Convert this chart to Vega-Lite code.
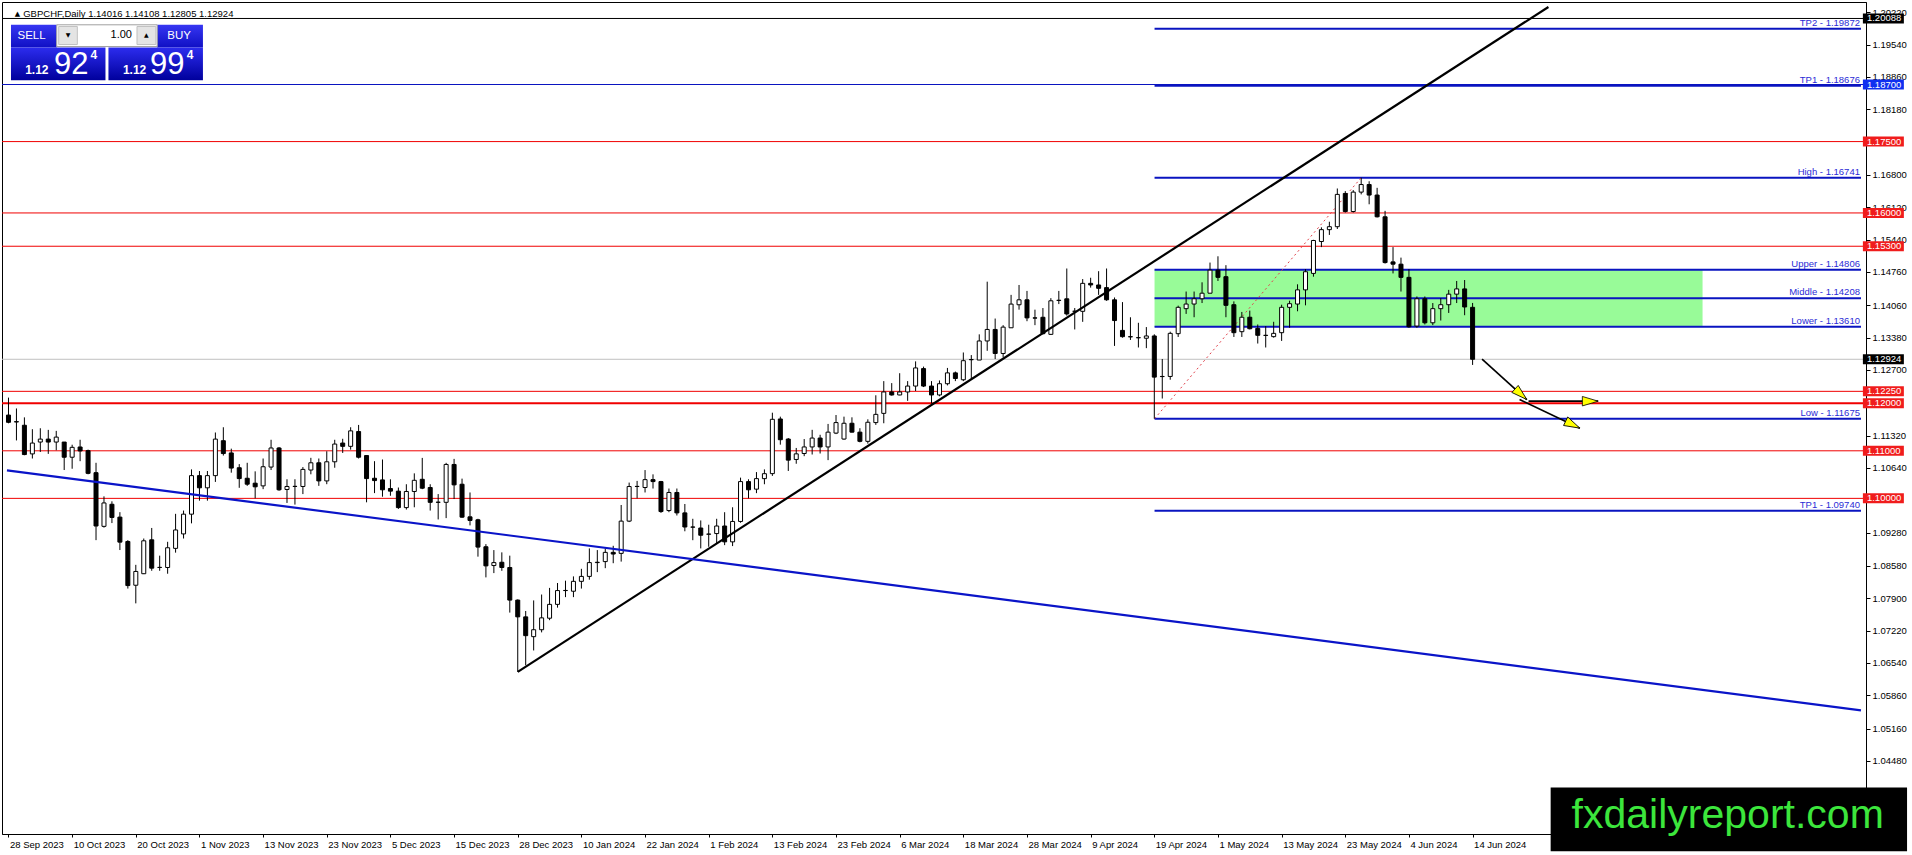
{
  "$schema": "https://vega.github.io/schema/vega-lite/v6.json",
  "width": 1864,
  "height": 832,
  "autosize": {"type": "none"},
  "padding": {"left": 2, "top": 2, "right": 46, "bottom": 21},
  "background": "white",
  "config": {
    "view": {"stroke": "#000000", "strokeWidth": 1},
    "axis": {"grid": false, "labelOverlap": false, "labelFlush": false, "labelBound": false},
    "text": {"font": "Liberation Sans"}
  },
  "datasets": {
    "candles": [
      {"i":0,"d":"2023-09-28","o":1.11751,"h":1.12118,"l":1.11578,"c":1.11599},
      {"i":1,"d":"2023-09-29","o":1.11613,"h":1.1189,"l":1.11218,"c":1.11606},
      {"i":2,"d":"2023-10-02","o":1.11537,"h":1.11703,"l":1.10907,"c":1.10921},
      {"i":3,"d":"2023-10-03","o":1.10935,"h":1.11454,"l":1.10838,"c":1.11163},
      {"i":4,"d":"2023-10-04","o":1.11184,"h":1.11474,"l":1.10976,"c":1.11246},
      {"i":5,"d":"2023-10-05","o":1.11246,"h":1.1144,"l":1.10935,"c":1.11184},
      {"i":6,"d":"2023-10-06","o":1.11184,"h":1.11419,"l":1.11011,"c":1.11288},
      {"i":7,"d":"2023-10-09","o":1.11184,"h":1.11184,"l":1.10596,"c":1.10865},
      {"i":8,"d":"2023-10-10","o":1.10865,"h":1.11128,"l":1.10623,"c":1.11073},
      {"i":9,"d":"2023-10-11","o":1.1108,"h":1.11232,"l":1.10782,"c":1.10997},
      {"i":10,"d":"2023-10-12","o":1.11004,"h":1.11025,"l":1.10506,"c":1.10526},
      {"i":11,"d":"2023-10-13","o":1.1054,"h":1.10748,"l":1.09122,"c":1.09419},
      {"i":12,"d":"2023-10-16","o":1.09412,"h":1.10042,"l":1.09385,"c":1.09904},
      {"i":13,"d":"2023-10-17","o":1.09876,"h":1.09938,"l":1.09481,"c":1.09599},
      {"i":14,"d":"2023-10-18","o":1.09606,"h":1.0971,"l":1.08914,"c":1.0908},
      {"i":15,"d":"2023-10-19","o":1.09094,"h":1.09122,"l":1.08104,"c":1.08167},
      {"i":16,"d":"2023-10-20","o":1.08174,"h":1.08603,"l":1.07793,"c":1.08464},
      {"i":17,"d":"2023-10-23","o":1.08416,"h":1.09156,"l":1.08409,"c":1.09108},
      {"i":18,"d":"2023-10-24","o":1.09129,"h":1.09378,"l":1.08478,"c":1.08533},
      {"i":19,"d":"2023-10-25","o":1.08547,"h":1.08796,"l":1.08478,"c":1.0855},
      {"i":20,"d":"2023-10-26","o":1.08547,"h":1.09087,"l":1.08416,"c":1.08962},
      {"i":21,"d":"2023-10-27","o":1.08949,"h":1.09675,"l":1.08859,"c":1.09336},
      {"i":22,"d":"2023-10-30","o":1.09253,"h":1.09744,"l":1.09156,"c":1.09668},
      {"i":23,"d":"2023-10-31","o":1.09668,"h":1.10609,"l":1.09475,"c":1.10478},
      {"i":24,"d":"2023-11-01","o":1.10478,"h":1.10575,"l":1.09952,"c":1.10222},
      {"i":25,"d":"2023-11-02","o":1.10222,"h":1.10575,"l":1.09952,"c":1.10478},
      {"i":26,"d":"2023-11-03","o":1.10478,"h":1.11385,"l":1.10346,"c":1.11246},
      {"i":27,"d":"2023-11-06","o":1.11212,"h":1.11495,"l":1.109,"c":1.10942},
      {"i":28,"d":"2023-11-07","o":1.10955,"h":1.11045,"l":1.1054,"c":1.10637},
      {"i":29,"d":"2023-11-08","o":1.10644,"h":1.1072,"l":1.10222,"c":1.10416},
      {"i":30,"d":"2023-11-09","o":1.10423,"h":1.10748,"l":1.10263,"c":1.10298},
      {"i":31,"d":"2023-11-10","o":1.10319,"h":1.10568,"l":1.1,"c":1.10243},
      {"i":32,"d":"2023-11-13","o":1.10263,"h":1.10838,"l":1.10194,"c":1.10665},
      {"i":33,"d":"2023-11-14","o":1.10658,"h":1.11232,"l":1.10596,"c":1.11059},
      {"i":34,"d":"2023-11-15","o":1.11059,"h":1.1108,"l":1.1016,"c":1.1018},
      {"i":35,"d":"2023-11-16","o":1.10187,"h":1.10402,"l":1.09904,"c":1.1025},
      {"i":36,"d":"2023-11-17","o":1.1025,"h":1.10402,"l":1.09869,"c":1.10253},
      {"i":37,"d":"2023-11-20","o":1.1025,"h":1.10658,"l":1.1009,"c":1.10609},
      {"i":38,"d":"2023-11-21","o":1.10596,"h":1.10852,"l":1.10506,"c":1.10748},
      {"i":39,"d":"2023-11-22","o":1.10748,"h":1.10838,"l":1.10263,"c":1.10367},
      {"i":40,"d":"2023-11-23","o":1.10367,"h":1.1099,"l":1.10298,"c":1.10769},
      {"i":41,"d":"2023-11-24","o":1.10769,"h":1.11232,"l":1.10644,"c":1.11142},
      {"i":42,"d":"2023-11-27","o":1.11163,"h":1.11253,"l":1.10955,"c":1.11094},
      {"i":43,"d":"2023-11-28","o":1.11094,"h":1.11495,"l":1.11025,"c":1.11419},
      {"i":44,"d":"2023-11-29","o":1.11405,"h":1.11544,"l":1.10838,"c":1.10865},
      {"i":45,"d":"2023-11-30","o":1.109,"h":1.109,"l":1.09917,"c":1.10416},
      {"i":46,"d":"2023-12-01","o":1.10423,"h":1.10782,"l":1.10111,"c":1.10374},
      {"i":47,"d":"2023-12-04","o":1.10388,"h":1.10817,"l":1.10035,"c":1.1018},
      {"i":48,"d":"2023-12-05","o":1.10207,"h":1.10401,"l":1.10055,"c":1.10152},
      {"i":49,"d":"2023-12-06","o":1.10152,"h":1.10228,"l":1.09778,"c":1.09806},
      {"i":50,"d":"2023-12-07","o":1.09806,"h":1.10297,"l":1.09765,"c":1.10145},
      {"i":51,"d":"2023-12-08","o":1.10145,"h":1.10526,"l":1.09813,"c":1.1038},
      {"i":52,"d":"2023-12-11","o":1.10401,"h":1.10851,"l":1.10194,"c":1.10214},
      {"i":53,"d":"2023-12-12","o":1.10228,"h":1.10297,"l":1.09744,"c":1.09917},
      {"i":54,"d":"2023-12-13","o":1.09917,"h":1.1009,"l":1.09557,"c":1.0992},
      {"i":55,"d":"2023-12-14","o":1.09917,"h":1.10747,"l":1.09585,"c":1.10713},
      {"i":56,"d":"2023-12-15","o":1.10713,"h":1.1083,"l":1.09986,"c":1.10284},
      {"i":57,"d":"2023-12-18","o":1.10297,"h":1.10415,"l":1.09592,"c":1.09605},
      {"i":58,"d":"2023-12-19","o":1.09612,"h":1.10124,"l":1.09432,"c":1.09536},
      {"i":59,"d":"2023-12-20","o":1.0955,"h":1.09571,"l":1.08775,"c":1.08976},
      {"i":60,"d":"2023-12-21","o":1.08983,"h":1.09038,"l":1.08339,"c":1.08581},
      {"i":61,"d":"2023-12-22","o":1.08588,"h":1.08913,"l":1.08429,"c":1.0865},
      {"i":62,"d":"2023-12-26","o":1.08657,"h":1.08865,"l":1.08477,"c":1.08547},
      {"i":63,"d":"2023-12-27","o":1.08547,"h":1.08796,"l":1.07599,"c":1.07862},
      {"i":64,"d":"2023-12-28","o":1.07862,"h":1.07876,"l":1.06352,"c":1.07509},
      {"i":65,"d":"2023-12-29","o":1.07509,"h":1.07633,"l":1.06491,"c":1.07114},
      {"i":66,"d":"2024-01-02","o":1.07093,"h":1.07855,"l":1.06803,"c":1.07239},
      {"i":67,"d":"2024-01-03","o":1.07239,"h":1.07979,"l":1.07183,"c":1.07488},
      {"i":68,"d":"2024-01-04","o":1.07481,"h":1.08118,"l":1.0744,"c":1.07772},
      {"i":69,"d":"2024-01-05","o":1.07772,"h":1.08221,"l":1.07703,"c":1.08062},
      {"i":70,"d":"2024-01-08","o":1.08062,"h":1.0827,"l":1.07924,"c":1.08065},
      {"i":71,"d":"2024-01-09","o":1.08048,"h":1.0836,"l":1.07924,"c":1.08256},
      {"i":72,"d":"2024-01-10","o":1.08256,"h":1.08519,"l":1.08104,"c":1.0836},
      {"i":73,"d":"2024-01-11","o":1.0836,"h":1.08948,"l":1.08291,"c":1.0865},
      {"i":74,"d":"2024-01-12","o":1.0865,"h":1.08913,"l":1.0845,"c":1.08657},
      {"i":75,"d":"2024-01-15","o":1.08671,"h":1.08948,"l":1.08533,"c":1.08865},
      {"i":76,"d":"2024-01-16","o":1.08865,"h":1.09003,"l":1.08637,"c":1.0883},
      {"i":77,"d":"2024-01-17","o":1.08844,"h":1.09861,"l":1.08671,"c":1.09522},
      {"i":78,"d":"2024-01-18","o":1.09522,"h":1.10332,"l":1.09502,"c":1.10249},
      {"i":79,"d":"2024-01-19","o":1.10249,"h":1.10367,"l":1.1,"c":1.10252},
      {"i":80,"d":"2024-01-22","o":1.10228,"h":1.10595,"l":1.10124,"c":1.10394},
      {"i":81,"d":"2024-01-23","o":1.10394,"h":1.10505,"l":1.10207,"c":1.10353},
      {"i":82,"d":"2024-01-24","o":1.10353,"h":1.10367,"l":1.09695,"c":1.09723},
      {"i":83,"d":"2024-01-25","o":1.09744,"h":1.10207,"l":1.09709,"c":1.10124},
      {"i":84,"d":"2024-01-26","o":1.10124,"h":1.10207,"l":1.0964,"c":1.09695},
      {"i":85,"d":"2024-01-29","o":1.09695,"h":1.09882,"l":1.09308,"c":1.09398},
      {"i":86,"d":"2024-01-30","o":1.09398,"h":1.09571,"l":1.09121,"c":1.09395},
      {"i":87,"d":"2024-01-31","o":1.09377,"h":1.09536,"l":1.08948,"c":1.09225},
      {"i":88,"d":"2024-02-01","o":1.09246,"h":1.09446,"l":1.08983,"c":1.0925},
      {"i":89,"d":"2024-02-02","o":1.0926,"h":1.09571,"l":1.09052,"c":1.09419},
      {"i":90,"d":"2024-02-05","o":1.09419,"h":1.09709,"l":1.09017,"c":1.09086},
      {"i":91,"d":"2024-02-06","o":1.09086,"h":1.09813,"l":1.08997,"c":1.09515},
      {"i":92,"d":"2024-02-07","o":1.09515,"h":1.10436,"l":1.09488,"c":1.10353},
      {"i":93,"d":"2024-02-08","o":1.10353,"h":1.10401,"l":1.1,"c":1.1018},
      {"i":94,"d":"2024-02-09","o":1.10194,"h":1.10553,"l":1.1011,"c":1.10415},
      {"i":95,"d":"2024-02-12","o":1.10415,"h":1.10609,"l":1.10297,"c":1.10519},
      {"i":96,"d":"2024-02-13","o":1.1052,"h":1.11801,"l":1.10472,"c":1.11662},
      {"i":97,"d":"2024-02-14","o":1.11669,"h":1.11718,"l":1.11129,"c":1.11233},
      {"i":98,"d":"2024-02-15","o":1.11247,"h":1.11268,"l":1.10576,"c":1.10804},
      {"i":99,"d":"2024-02-16","o":1.10818,"h":1.1106,"l":1.10728,"c":1.10936},
      {"i":100,"d":"2024-02-19","o":1.10943,"h":1.11247,"l":1.10887,"c":1.11081},
      {"i":101,"d":"2024-02-20","o":1.11081,"h":1.11441,"l":1.10922,"c":1.11268},
      {"i":102,"d":"2024-02-21","o":1.11268,"h":1.11337,"l":1.10943,"c":1.11081},
      {"i":103,"d":"2024-02-22","o":1.11081,"h":1.11565,"l":1.10804,"c":1.11392},
      {"i":104,"d":"2024-02-23","o":1.11372,"h":1.11752,"l":1.11351,"c":1.11593},
      {"i":105,"d":"2024-02-26","o":1.11247,"h":1.11718,"l":1.11233,"c":1.11579},
      {"i":106,"d":"2024-02-27","o":1.11579,"h":1.11704,"l":1.11385,"c":1.11392},
      {"i":107,"d":"2024-02-28","o":1.11392,"h":1.11475,"l":1.11178,"c":1.11199},
      {"i":108,"d":"2024-02-29","o":1.11199,"h":1.11662,"l":1.1115,"c":1.116},
      {"i":109,"d":"2024-03-01","o":1.11593,"h":1.12167,"l":1.11545,"c":1.11766},
      {"i":110,"d":"2024-03-04","o":1.11787,"h":1.12465,"l":1.11579,"c":1.12237},
      {"i":111,"d":"2024-03-05","o":1.12237,"h":1.12423,"l":1.1216,"c":1.12174},
      {"i":112,"d":"2024-03-06","o":1.12174,"h":1.12631,"l":1.12167,"c":1.12237},
      {"i":113,"d":"2024-03-07","o":1.12237,"h":1.12465,"l":1.1205,"c":1.12361},
      {"i":114,"d":"2024-03-08","o":1.12361,"h":1.1288,"l":1.12257,"c":1.12742},
      {"i":115,"d":"2024-03-11","o":1.12728,"h":1.1277,"l":1.1234,"c":1.12361},
      {"i":116,"d":"2024-03-12","o":1.12361,"h":1.12465,"l":1.11994,"c":1.12174},
      {"i":117,"d":"2024-03-13","o":1.12174,"h":1.12479,"l":1.12147,"c":1.1241},
      {"i":118,"d":"2024-03-14","o":1.1241,"h":1.12742,"l":1.12375,"c":1.12638},
      {"i":119,"d":"2024-03-15","o":1.12638,"h":1.12666,"l":1.12465,"c":1.1252},
      {"i":120,"d":"2024-03-18","o":1.12493,"h":1.13067,"l":1.12465,"c":1.12894},
      {"i":121,"d":"2024-03-19","o":1.12915,"h":1.13012,"l":1.125,"c":1.12918},
      {"i":122,"d":"2024-03-20","o":1.12908,"h":1.13448,"l":1.12908,"c":1.13309},
      {"i":123,"d":"2024-03-21","o":1.13309,"h":1.14555,"l":1.13102,"c":1.13551},
      {"i":124,"d":"2024-03-22","o":1.13551,"h":1.1378,"l":1.12929,"c":1.13046},
      {"i":125,"d":"2024-03-25","o":1.13046,"h":1.13641,"l":1.12963,"c":1.136},
      {"i":126,"d":"2024-03-26","o":1.13586,"h":1.14278,"l":1.13586,"c":1.14084},
      {"i":127,"d":"2024-03-27","o":1.1407,"h":1.14486,"l":1.13967,"c":1.14174},
      {"i":128,"d":"2024-03-28","o":1.14174,"h":1.14361,"l":1.13724,"c":1.13794},
      {"i":129,"d":"2024-03-29","o":1.13794,"h":1.13967,"l":1.13641,"c":1.1379},
      {"i":130,"d":"2024-04-01","o":1.13807,"h":1.14001,"l":1.13448,"c":1.13462},
      {"i":131,"d":"2024-04-02","o":1.13448,"h":1.14209,"l":1.13434,"c":1.14153},
      {"i":132,"d":"2024-04-03","o":1.1416,"h":1.14361,"l":1.14084,"c":1.14165},
      {"i":133,"d":"2024-04-04","o":1.14195,"h":1.14832,"l":1.13842,"c":1.13877},
      {"i":134,"d":"2024-04-05","o":1.13932,"h":1.14001,"l":1.13551,"c":1.13935},
      {"i":135,"d":"2024-04-08","o":1.13932,"h":1.1461,"l":1.13711,"c":1.1452},
      {"i":136,"d":"2024-04-09","o":1.1452,"h":1.14638,"l":1.1443,"c":1.14486},
      {"i":137,"d":"2024-04-10","o":1.14486,"h":1.14776,"l":1.14278,"c":1.14416},
      {"i":138,"d":"2024-04-11","o":1.1443,"h":1.14832,"l":1.14153,"c":1.14174},
      {"i":139,"d":"2024-04-12","o":1.14174,"h":1.14223,"l":1.13205,"c":1.13738},
      {"i":140,"d":"2024-04-15","o":1.13531,"h":1.14126,"l":1.13378,"c":1.13399},
      {"i":141,"d":"2024-04-16","o":1.13399,"h":1.13807,"l":1.1333,"c":1.13395},
      {"i":142,"d":"2024-04-17","o":1.13379,"h":1.13691,"l":1.13172,"c":1.13376},
      {"i":143,"d":"2024-04-18","o":1.13366,"h":1.13601,"l":1.13158,"c":1.13414},
      {"i":144,"d":"2024-04-19","o":1.13414,"h":1.13449,"l":1.11675,"c":1.12549},
      {"i":145,"d":"2024-04-22","o":1.12563,"h":1.1293,"l":1.12099,"c":1.1256},
      {"i":146,"d":"2024-04-23","o":1.12563,"h":1.13504,"l":1.12494,"c":1.13469},
      {"i":147,"d":"2024-04-24","o":1.13462,"h":1.14051,"l":1.13393,"c":1.14016},
      {"i":148,"d":"2024-04-25","o":1.13988,"h":1.14348,"l":1.13878,"c":1.14085},
      {"i":149,"d":"2024-04-26","o":1.14085,"h":1.14348,"l":1.13808,"c":1.14196},
      {"i":150,"d":"2024-04-29","o":1.14196,"h":1.14542,"l":1.14106,"c":1.14313},
      {"i":151,"d":"2024-04-30","o":1.14313,"h":1.14957,"l":1.14313,"c":1.14798},
      {"i":152,"d":"2024-05-01","o":1.14798,"h":1.15089,"l":1.1457,"c":1.14646},
      {"i":153,"d":"2024-05-02","o":1.1466,"h":1.14902,"l":1.13808,"c":1.14058},
      {"i":154,"d":"2024-05-03","o":1.14071,"h":1.14141,"l":1.13393,"c":1.13483},
      {"i":155,"d":"2024-05-06","o":1.13504,"h":1.13919,"l":1.13393,"c":1.13808},
      {"i":156,"d":"2024-05-07","o":1.13808,"h":1.13947,"l":1.13552,"c":1.13566},
      {"i":157,"d":"2024-05-08","o":1.13573,"h":1.13656,"l":1.13255,"c":1.13428},
      {"i":158,"d":"2024-05-09","o":1.13428,"h":1.13622,"l":1.13172,"c":1.13425},
      {"i":159,"d":"2024-05-10","o":1.134,"h":1.13712,"l":1.13379,"c":1.13469},
      {"i":160,"d":"2024-05-13","o":1.13483,"h":1.14071,"l":1.1331,"c":1.14016},
      {"i":161,"d":"2024-05-14","o":1.14016,"h":1.14155,"l":1.13587,"c":1.14092},
      {"i":162,"d":"2024-05-15","o":1.14085,"h":1.145,"l":1.13933,"c":1.14383},
      {"i":163,"d":"2024-05-16","o":1.14383,"h":1.14819,"l":1.14058,"c":1.14764},
      {"i":164,"d":"2024-05-17","o":1.14729,"h":1.15435,"l":1.1466,"c":1.15421},
      {"i":165,"d":"2024-05-20","o":1.154,"h":1.15698,"l":1.15282,"c":1.15649},
      {"i":166,"d":"2024-05-21","o":1.15649,"h":1.15815,"l":1.15538,"c":1.15711},
      {"i":167,"d":"2024-05-22","o":1.15711,"h":1.16514,"l":1.15663,"c":1.1639},
      {"i":168,"d":"2024-05-23","o":1.1641,"h":1.16459,"l":1.16009,"c":1.1603},
      {"i":169,"d":"2024-05-24","o":1.1603,"h":1.1648,"l":1.16009,"c":1.16438},
      {"i":170,"d":"2024-05-27","o":1.16438,"h":1.16741,"l":1.1639,"c":1.16597},
      {"i":171,"d":"2024-05-28","o":1.16597,"h":1.16666,"l":1.16182,"c":1.16376},
      {"i":172,"d":"2024-05-29","o":1.16376,"h":1.16528,"l":1.15905,"c":1.15919},
      {"i":173,"d":"2024-05-30","o":1.15919,"h":1.16044,"l":1.14936,"c":1.14957},
      {"i":174,"d":"2024-05-31","o":1.14971,"h":1.15282,"l":1.14729,"c":1.14923},
      {"i":175,"d":"2024-06-03","o":1.14923,"h":1.15061,"l":1.14348,"c":1.14646},
      {"i":176,"d":"2024-06-04","o":1.14646,"h":1.14819,"l":1.13587,"c":1.13608},
      {"i":177,"d":"2024-06-05","o":1.13622,"h":1.14244,"l":1.13587,"c":1.14196},
      {"i":178,"d":"2024-06-06","o":1.14196,"h":1.14244,"l":1.13656,"c":1.13691},
      {"i":179,"d":"2024-06-07","o":1.13691,"h":1.14106,"l":1.13642,"c":1.13988},
      {"i":180,"d":"2024-06-10","o":1.13988,"h":1.1421,"l":1.13739,"c":1.14071},
      {"i":181,"d":"2024-06-11","o":1.14071,"h":1.14383,"l":1.13898,"c":1.14293},
      {"i":182,"d":"2024-06-12","o":1.14293,"h":1.1457,"l":1.14106,"c":1.14403},
      {"i":183,"d":"2024-06-13","o":1.14403,"h":1.1459,"l":1.1385,"c":1.14023},
      {"i":184,"d":"2024-06-14","o":1.14016,"h":1.14108,"l":1.12805,"c":1.12924}
    ],
    "hlines": [
      {"price": 1.20088, "kind": "marker"},
      {"price": 1.187, "kind": "target"},
      {"price": 1.175, "kind": "level"},
      {"price": 1.16, "kind": "level"},
      {"price": 1.153, "kind": "level"},
      {"price": 1.12924, "kind": "bid"},
      {"price": 1.1225, "kind": "level"},
      {"price": 1.12, "kind": "key"},
      {"price": 1.11, "kind": "level"},
      {"price": 1.1, "kind": "level"}
    ],
    "fib": [
      {"label": "TP2 - 1.19872", "price": 1.19872},
      {"label": "TP1 - 1.18676", "price": 1.18676},
      {"label": "High - 1.16741", "price": 1.16741},
      {"label": "Upper - 1.14806", "price": 1.14806},
      {"label": "Middle - 1.14208", "price": 1.14208},
      {"label": "Lower - 1.13610", "price": 1.1361},
      {"label": "Low - 1.11675", "price": 1.11675},
      {"label": "TP1 - 1.09740", "price": 1.0974}
    ],
    "trends": [
      {"name": "up", "i1": 64, "v1": 1.06352, "i2": 193.53, "v2": 1.2033},
      {"name": "down", "i1": -0.19, "v1": 1.10589, "i2": 232.81, "v2": 1.05542}
    ],
    "arrows": [
      {"i1": 185.19, "v1": 1.12929, "i2": 190.81, "v2": 1.12078, "angle": 42},
      {"i1": 191.03, "v1": 1.12043, "i2": 199.78, "v2": 1.12043, "angle": 0},
      {"i1": 189.9, "v1": 1.12078, "i2": 197.48, "v2": 1.11476, "angle": 26}
    ],
    "one": [{}]
  },
  "layer": [
    {
      "data": {"name": "one"},
      "mark": {"type": "rect", "color": "#98fb98"},
      "encoding": {
        "x": {
          "datum": 144.03,
          "type": "quantitative",
          "scale": {"domain": [-0.1875, 232.8125], "nice": false, "zero": false},
          "axis": {
            "title": null,
            "orient": "bottom",
            "values": [0, 8, 16, 24, 32, 40, 48, 56, 64, 72, 80, 88, 96, 104, 112, 120, 128, 136, 144, 152, 160, 168, 176, 184],
            "labelExpr": "['28 Sep 2023','10 Oct 2023','20 Oct 2023','1 Nov 2023','13 Nov 2023','23 Nov 2023','5 Dec 2023','15 Dec 2023','28 Dec 2023','10 Jan 2024','22 Jan 2024','1 Feb 2024','13 Feb 2024','23 Feb 2024','6 Mar 2024','18 Mar 2024','28 Mar 2024','9 Apr 2024','19 Apr 2024','1 May 2024','13 May 2024','23 May 2024','4 Jun 2024','14 Jun 2024'][round(datum.value / 8)]",
            "labelAlign": "left",
            "labelBaseline": "top",
            "labelPadding": 2,
            "labelOffset": 1,
            "labelFlush": false,
            "labelBound": false,
            "labelOverlap": false,
            "labelFont": "Liberation Sans",
            "labelFontSize": 9.5,
            "labelColor": "#000000",
            "tickSize": 3,
            "tickColor": "#000000",
            "domainColor": "#000000"
          }
        },
        "x2": {"datum": 212.9},
        "y": {
          "datum": 1.14806,
          "type": "quantitative",
          "scale": {"domain": [1.030499, 1.203292], "nice": false, "zero": false},
          "axis": {
            "title": null,
            "orient": "right",
            "values": [1.2022, 1.1954, 1.1886, 1.1818, 1.168, 1.1612, 1.1544, 1.1476, 1.1406, 1.1338, 1.127, 1.1132, 1.1064, 1.0928, 1.0858, 1.079, 1.0722, 1.0654, 1.0586, 1.0516, 1.0448],
            "format": ".5f",
            "labelAlign": "left",
            "labelBaseline": "middle",
            "labelPadding": 2,
            "labelFlush": false,
            "labelBound": false,
            "labelOverlap": false,
            "labelFont": "Liberation Sans",
            "labelFontSize": 9.5,
            "labelColor": "#000000",
            "tickSize": 4,
            "tickColor": "#000000",
            "domainColor": "#000000"
          }
        },
        "y2": {"datum": 1.1361}
      }
    },
    {
      "data": {"name": "hlines"},
      "mark": {"type": "rule"},
      "encoding": {
        "y": {"field": "price", "type": "quantitative"},
        "stroke": {
          "condition": [
            {"test": "datum.kind === 'bid'", "value": "#c0c0c0"},
            {"test": "datum.kind === 'marker'", "value": "#000000"},
            {"test": "datum.kind === 'target'", "value": "#0a14c0"}
          ],
          "value": "#f00000"
        },
        "strokeWidth": {"condition": {"test": "datum.kind === 'key'", "value": 2}, "value": 1}
      }
    },
    {
      "data": {"name": "fib"},
      "mark": {"type": "rule", "color": "#0a14c0", "strokeWidth": 2},
      "encoding": {
        "x": {"datum": 144.03, "type": "quantitative"},
        "x2": {"datum": 232.81},
        "y": {"field": "price", "type": "quantitative"}
      }
    },
    {
      "data": {"name": "one"},
      "mark": {"type": "rule", "color": "#e0404a", "strokeWidth": 1, "strokeDash": [2, 3]},
      "encoding": {
        "x": {"datum": 144.03, "type": "quantitative"},
        "x2": {"datum": 170},
        "y": {"datum": 1.11675, "type": "quantitative"},
        "y2": {"datum": 1.16741}
      }
    },
    {
      "data": {"name": "candles"},
      "mark": {"type": "rule", "color": "#000000", "strokeWidth": 1},
      "encoding": {
        "x": {"field": "i", "type": "quantitative"},
        "y": {"field": "l", "type": "quantitative"},
        "y2": {"field": "h"}
      }
    },
    {
      "data": {"name": "candles"},
      "mark": {"type": "bar", "width": 4, "stroke": "#000000", "strokeWidth": 1},
      "encoding": {
        "x": {"field": "i", "type": "quantitative"},
        "y": {"field": "o", "type": "quantitative"},
        "y2": {"field": "c"},
        "fill": {"condition": {"test": "datum.c < datum.o", "value": "#000000"}, "value": "#ffffff"}
      }
    },
    {
      "data": {"name": "trends"},
      "mark": {"type": "rule", "strokeWidth": 2.2, "clip": true},
      "encoding": {
        "x": {"field": "i1", "type": "quantitative"},
        "y": {"field": "v1", "type": "quantitative"},
        "x2": {"field": "i2"},
        "y2": {"field": "v2"},
        "stroke": {"condition": {"test": "datum.name === 'up'", "value": "#000000"}, "value": "#0a14c8"}
      }
    },
    {
      "data": {"name": "arrows"},
      "mark": {"type": "rule", "color": "#000000", "strokeWidth": 1.7},
      "encoding": {
        "x": {"field": "i1", "type": "quantitative"},
        "y": {"field": "v1", "type": "quantitative"},
        "x2": {"field": "i2"},
        "y2": {"field": "v2"}
      }
    },
    {
      "data": {"name": "arrows"},
      "mark": {"type": "point", "shape": "M0,0L-1,-0.3L-1,0.3Z", "filled": true, "fill": "#ffff00", "stroke": "#000000", "strokeWidth": 0.8, "size": 1000, "opacity": 1},
      "encoding": {
        "x": {"field": "i2", "type": "quantitative"},
        "y": {"field": "v2", "type": "quantitative"},
        "angle": {"field": "angle", "type": "quantitative", "scale": null}
      }
    },
    {
      "data": {"name": "fib"},
      "mark": {"type": "text", "align": "right", "baseline": "bottom", "dx": -1, "dy": -1, "fontSize": 9.5, "color": "#2b2bd6"},
      "encoding": {
        "x": {"datum": 232.81, "type": "quantitative"},
        "y": {"field": "price", "type": "quantitative"},
        "text": {"field": "label"}
      }
    },
    {
      "data": {"name": "one"},
      "mark": {"type": "text", "align": "left", "baseline": "middle", "fontSize": 7, "font": "DejaVu Sans", "color": "#000000"},
      "encoding": {
        "x": {"datum": 0.8, "type": "quantitative"},
        "y": {"datum": 1.20184, "type": "quantitative"},
        "text": {"value": "▲"}
      }
    },
    {
      "data": {"name": "one"},
      "mark": {"type": "text", "align": "left", "baseline": "middle", "fontSize": 9.5, "color": "#000000"},
      "encoding": {
        "x": {"datum": 1.85, "type": "quantitative"},
        "y": {"datum": 1.20184, "type": "quantitative"},
        "text": {"value": "GBPCHF,Daily  1.14016 1.14108 1.12805 1.12924"}
      }
    },
    {
      "data": {"values": [
        {"x1": 0.3125, "x2": 6.0625},
        {"x1": 18.6875, "x2": 24.4375}
      ]},
      "mark": {"type": "rect", "fill": {"gradient": "linear", "x1": 0, "y1": 0, "x2": 0, "y2": 1, "stops": [{"offset": 0, "color": "#3636f2"}, {"offset": 1, "color": "#1010c4"}]}},
      "encoding": {
        "x": {"field": "x1", "type": "quantitative"},
        "x2": {"field": "x2"},
        "y": {"datum": 1.19955, "type": "quantitative"},
        "y2": {"datum": 1.19478}
      }
    },
    {
      "data": {"values": [
        {"x1": 0.3125, "x2": 12.1875},
        {"x1": 12.5625, "x2": 24.4375}
      ]},
      "mark": {"type": "rect", "fill": {"gradient": "linear", "x1": 0, "y1": 0, "x2": 0, "y2": 1, "stops": [{"offset": 0, "color": "#2c2cee"}, {"offset": 1, "color": "#00009c"}]}},
      "encoding": {
        "x": {"field": "x1", "type": "quantitative"},
        "x2": {"field": "x2"},
        "y": {"datum": 1.19478, "type": "quantitative"},
        "y2": {"datum": 1.18792}
      }
    },
    {
      "data": {"name": "one"},
      "mark": {"type": "rect", "fill": "#ffffff", "stroke": "#a0a0a0", "strokeWidth": 1},
      "encoding": {
        "x": {"datum": 6.0625, "type": "quantitative"},
        "x2": {"datum": 18.6875},
        "y": {"datum": 1.19955, "type": "quantitative"},
        "y2": {"datum": 1.19498}
      }
    },
    {
      "data": {"values": [
        {"x1": 6.31, "x2": 8.65},
        {"x1": 16.15, "x2": 18.52}
      ]},
      "mark": {"type": "rect", "fill": "#e4e4e4", "stroke": "#c0c0c0", "strokeWidth": 1},
      "encoding": {
        "x": {"field": "x1", "type": "quantitative"},
        "x2": {"field": "x2"},
        "y": {"datum": 1.1992, "type": "quantitative"},
        "y2": {"datum": 1.1954}
      }
    },
    {
      "data": {"values": [
        {"x": 2.9, "t": "SELL"},
        {"x": 21.44, "t": "BUY"}
      ]},
      "mark": {"type": "text", "align": "center", "baseline": "middle", "fontSize": 11.5, "color": "#ffffff"},
      "encoding": {
        "x": {"field": "x", "type": "quantitative"},
        "y": {"datum": 1.19727, "type": "quantitative"},
        "text": {"field": "t"}
      }
    },
    {
      "data": {"name": "one"},
      "mark": {"type": "text", "align": "right", "baseline": "middle", "fontSize": 11, "color": "#000000"},
      "encoding": {
        "x": {"datum": 15.52, "type": "quantitative"},
        "y": {"datum": 1.19748, "type": "quantitative"},
        "text": {"value": "1.00"}
      }
    },
    {
      "data": {"values": [
        {"x": 7.48, "t": "▼"},
        {"x": 17.33, "t": "▲"}
      ]},
      "mark": {"type": "text", "align": "center", "baseline": "middle", "fontSize": 6, "font": "DejaVu Sans", "color": "#000000"},
      "encoding": {
        "x": {"field": "x", "type": "quantitative"},
        "y": {"datum": 1.19735, "type": "quantitative"},
        "text": {"field": "t"}
      }
    },
    {
      "data": {"values": [
        {"x": 3.56, "t": "1.12"},
        {"x": 15.85, "t": "1.12"}
      ]},
      "mark": {"type": "text", "align": "center", "baseline": "alphabetic", "fontSize": 12, "fontWeight": "bold", "color": "#ffffff"},
      "encoding": {
        "x": {"field": "x", "type": "quantitative"},
        "y": {"datum": 1.18927, "type": "quantitative"},
        "text": {"field": "t"}
      }
    },
    {
      "data": {"values": [
        {"x": 5.73, "t": "92"},
        {"x": 17.78, "t": "99"}
      ]},
      "mark": {"type": "text", "align": "left", "baseline": "alphabetic", "fontSize": 31, "color": "#ffffff"},
      "encoding": {
        "x": {"field": "x", "type": "quantitative"},
        "y": {"datum": 1.18917, "type": "quantitative"},
        "text": {"field": "t"}
      }
    },
    {
      "data": {"values": [
        {"x": 10.31, "t": "4"},
        {"x": 22.4, "t": "4"}
      ]},
      "mark": {"type": "text", "align": "left", "baseline": "alphabetic", "fontSize": 12, "fontWeight": "bold", "color": "#ffffff"},
      "encoding": {
        "x": {"field": "x", "type": "quantitative"},
        "y": {"datum": 1.19228, "type": "quantitative"},
        "text": {"field": "t"}
      }
    },
    {
      "data": {"name": "hlines"},
      "mark": {"type": "bar", "orient": "horizontal", "size": 10, "clip": false},
      "encoding": {
        "x": {"datum": 233.05, "type": "quantitative"},
        "x2": {"datum": 238.2},
        "y": {"field": "price", "type": "quantitative"},
        "fill": {
          "condition": [
            {"test": "datum.kind === 'bid' || datum.kind === 'marker'", "value": "#000000"},
            {"test": "datum.kind === 'target'", "value": "#1030f0"}
          ],
          "value": "#f01c1c"
        }
      }
    },
    {
      "data": {"name": "hlines"},
      "mark": {"type": "text", "align": "left", "baseline": "middle", "fontSize": 9.5, "color": "#ffffff"},
      "encoding": {
        "x": {"datum": 233.56, "type": "quantitative"},
        "y": {"field": "price", "type": "quantitative"},
        "text": {"field": "price", "type": "quantitative", "format": ".5f"}
      }
    },
    {
      "data": {"name": "one"},
      "mark": {"type": "rect", "fill": "#000000"},
      "encoding": {
        "x": {"datum": 193.81, "type": "quantitative"},
        "x2": {"datum": 238.6},
        "y": {"datum": 1.03922, "type": "quantitative"},
        "y2": {"datum": 1.0258}
      }
    },
    {
      "data": {"name": "one"},
      "mark": {"type": "text", "align": "center", "baseline": "alphabetic", "fontSize": 41, "color": "#3ce63c"},
      "encoding": {
        "x": {"datum": 216.06, "type": "quantitative"},
        "y": {"datum": 1.03071, "type": "quantitative"},
        "text": {"value": "fxdailyreport.com"}
      }
    }
  ]
}
